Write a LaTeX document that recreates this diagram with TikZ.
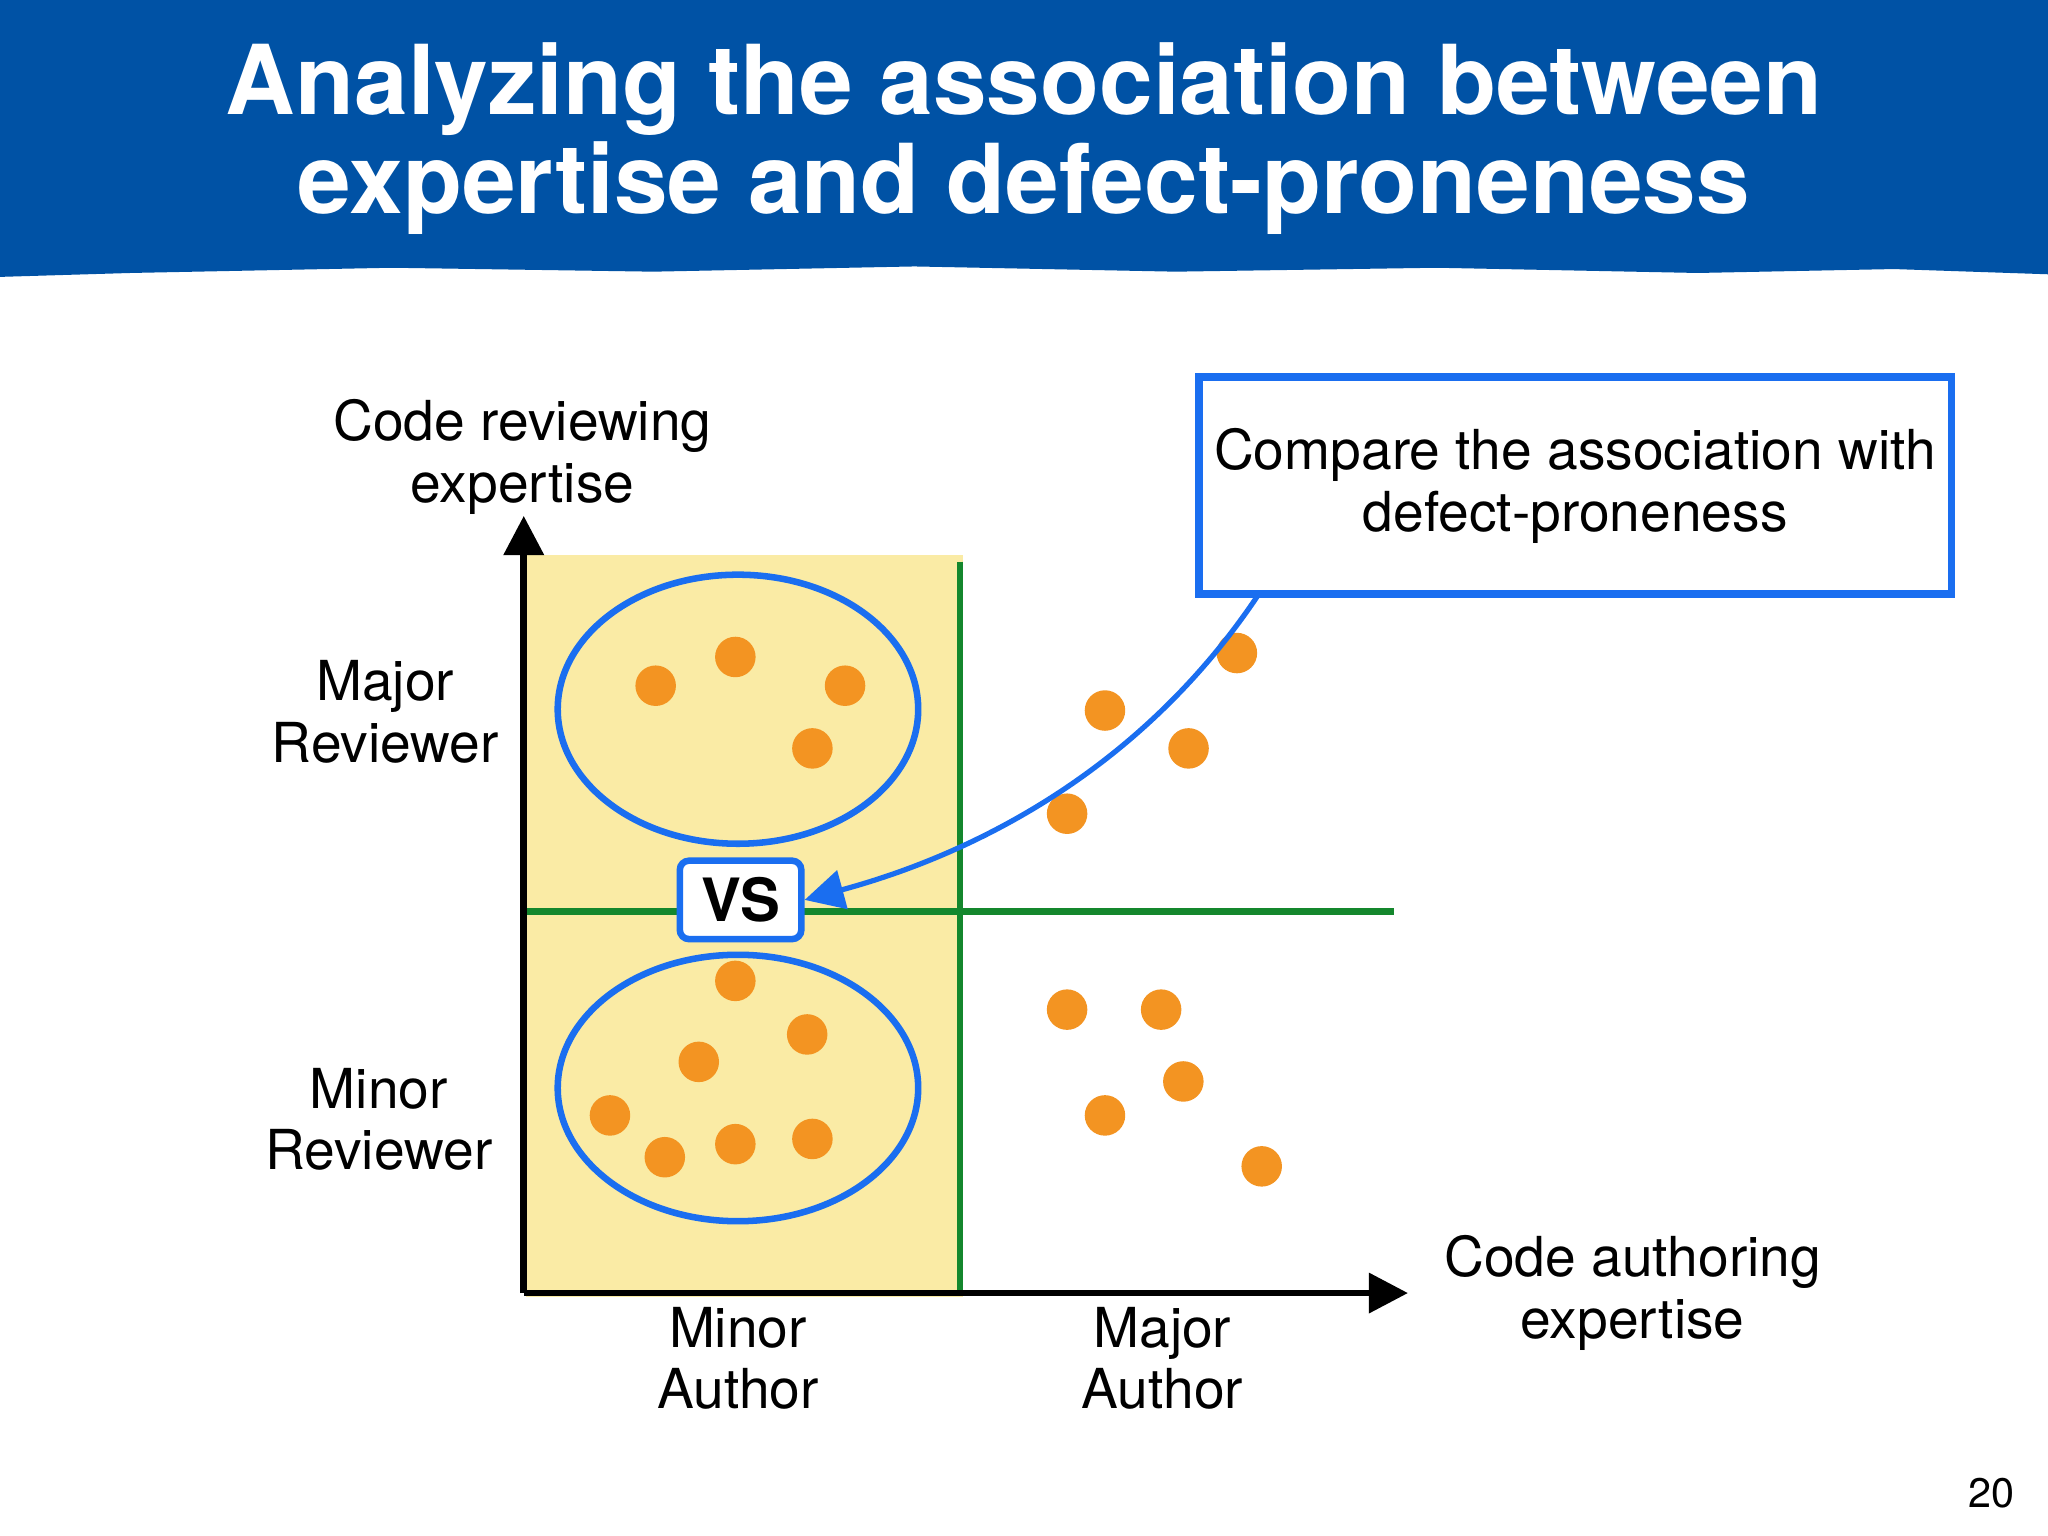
\documentclass[tikz,border=0pt]{standalone}
\usepackage{fontspec}
\setmainfont{TeX Gyre Heros}
\usetikzlibrary{arrows.meta}
\definecolor{banner}{RGB}{0,82,165}
\definecolor{pale}{RGB}{250,235,165}
\definecolor{grn}{RGB}{20,135,45}
\definecolor{blu}{RGB}{26,110,240}
\definecolor{org}{RGB}{243,148,34}
\tikzset{
 lbl/.style={align=center,font=\fontsize{12pt}{13.4pt}\selectfont},
 dot/.style={circle,fill=org,inner sep=0pt,minimum size=0.31cm},
 ell/.style={draw=blu,line width=0.05cm},
 axis/.style={line width=0.05cm,-{Triangle[length=0.3cm,width=0.3cm]}},
 gline/.style={draw=grn,line width=0.05cm}
}
\begin{document}
\begin{tikzpicture}[x=0.01cm,y=-0.01cm]
\useasboundingbox (0,0) rectangle (1568,1176);
% banner
\fill[banner] (0,0) -- (1568,0) -- (1568,210) -- (1450,206) -- (1300,209) -- (1100,205) -- (900,208) -- (700,204) -- (500,208) -- (300,205) -- (100,209) -- (0,212) -- cycle;
\node[align=center,text=white,font=\fontsize{21pt}{21.5pt}\selectfont\bfseries] (title) at (784,106) {Analyzing the association between\\expertise and defect-proneness};
% yellow
\fill[pale] (403,425) rectangle (737,993);
% green
\draw[gline] (735,430) -- (735,990);
\draw[gline] (403,698) -- (1067,698);
% axes
\coordinate (o) at (401,990);
\coordinate (ytop) at (401,395);
\coordinate (xend) at (1078,990);
\draw[axis] (o) -- (ytop);
\draw[axis] (o) -- (xend);
% ellipses
\draw[ell] (565,543) ellipse (138 and 103);
\draw[ell] (565,833) ellipse (138 and 102);
% dots
\foreach \p/\n in {{502,525}/a1,{563,503}/a2,{647,525}/a3,{622,573}/a4,
 {563,751}/b1,{618,792}/b2,{535,813}/b3,{467,854}/b4,{509,886}/b5,{563,876}/b6,{622,872}/b7,
 {947,500}/c1,{846,544}/c2,{910,573}/c3,{817,623}/c4,
 {817,773}/d1,{889,773}/d2,{906,828}/d3,{846,854}/d4,{966,893}/d5}
 \node[dot] (\n) at (\p) {};
% VS
\node[draw=blu,line width=0.05cm,fill=white,rounded corners=2pt,minimum width=0.93cm,minimum height=0.6cm,font=\fontsize{13pt}{14pt}\selectfont\bfseries] (vs) at (567,689) {VS};
% callout
\node[draw=blu,line width=0.06cm,fill=white,minimum width=5.62cm,minimum height=1.66cm,align=center,font=\fontsize{12pt}{13.4pt}\selectfont] (call) at (1206,372) {Compare the association with\\defect-proneness};
\coordinate (cs) at (963,456);
\draw[blu,line width=0.04cm,-{Triangle[length=0.3cm,width=0.3cm]}] (cs) .. controls (880,580) and (760,650) .. (vs.east);
% labels
\node[lbl] (ylab) at (400,350) {Code reviewing\\expertise};
\node[lbl] (majr) at (295,545) {Major\\Reviewer};
\node[lbl] (minr) at (290,857) {Minor\\Reviewer};
\node[lbl] (mina) at (565,1040) {Minor\\Author};
\node[lbl] (maja) at (890,1040) {Major\\Author};
\node[lbl] (xlab) at (1250,990) {Code authoring\\expertise};
\node[font=\fontsize{9pt}{10pt}\selectfont] (pg) at (1525,1143) {20};
\end{tikzpicture}
\end{document}
